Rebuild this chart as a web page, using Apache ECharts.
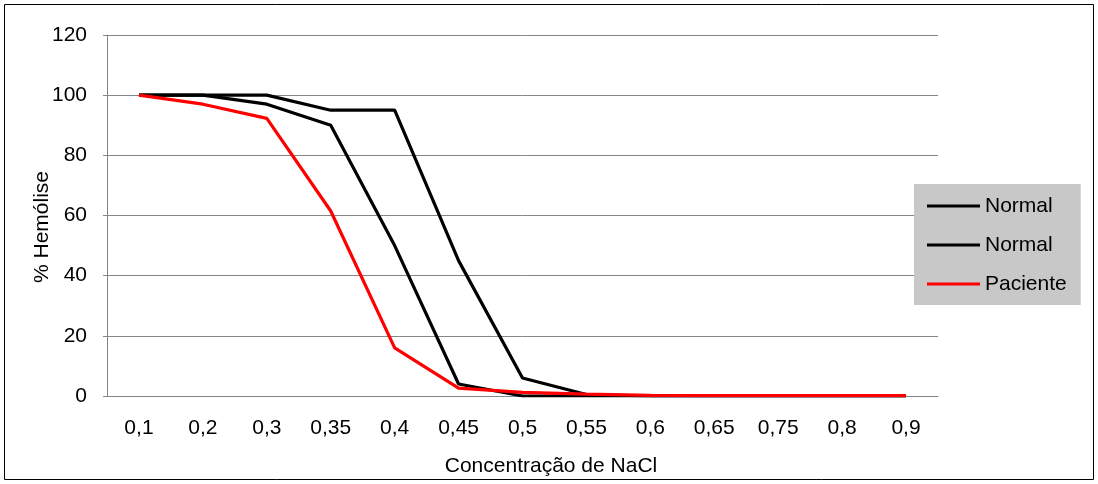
<!DOCTYPE html>
<html><head><meta charset="utf-8">
<script src="https://cdn.jsdelivr.net/npm/echarts@6/dist/echarts.min.js"></script>
<style>html,body{margin:0;padding:0;background:#fff}#c{width:1098px;height:484px}</style>
</head><body><div id="c"></div>
<script>
var categories = ['0,1','0,2','0,3','0,35','0,4','0,45','0,5','0,55','0,6','0,65','0,75','0,8','0,9'];
var normal1 = [100,100,100,95,95,45,6,0.5,0,0,0,0,0];
var normal2 = [100,100,97,90,50,4,0,0,0,0,0,0,0];
var paciente = [100,97,92.3,61.5,16,2.6,1.2,0.6,0.2,0.1,0.1,0.1,0.1];
var yTicks = [0,20,40,60,80,100,120];
var yTitle = '% Hemólise';
var xTitle = 'Concentração de NaCl';

var chart = echarts.init(document.getElementById('c'));
var font = 'Liberation Sans, Arial, sans-serif';
function line(name, data, color){
  return {name:name,type:'line',data:data,symbol:'none',lineStyle:{color:color,width:3.2},itemStyle:{color:color},z:color==='#ff0000'?3:2};
}
chart.setOption({
  animation:false,
  graphic:[
    {type:'rect',shape:{x:4.5,y:4.5,width:1089,height:475},style:{fill:'none',stroke:'#000',lineWidth:1},silent:true},
    {type:'text',x:42,y:227,rotation:Math.PI/2,style:{text:yTitle,font:'21px Liberation Sans, Arial, sans-serif',fill:'#000',textAlign:'center',textVerticalAlign:'middle'},silent:true}
  ],
  grid:{left:107,right:160,top:35,bottom:88},
  legend:{
    left:914, top:184, orient:'vertical',
    backgroundColor:'#c8c8c8',
    padding:[11,14,10,13],
    itemWidth:53, itemHeight:3, itemGap:17, icon:'rect',
    textStyle:{fontFamily:font,fontSize:21,color:'#000',lineHeight:22,padding:[0,0,0,0]},
    data:['Normal','Normal ','Paciente']
  },
  xAxis:{
    type:'category', data:categories, boundaryGap:true,
    axisLine:{lineStyle:{color:'#868686'}}, axisTick:{show:false},
    axisLabel:{fontFamily:font,fontSize:21,color:'#000',margin:22,interval:0},
    name:xTitle, nameLocation:'middle', nameGap:60,
    nameTextStyle:{fontFamily:font,fontSize:21,color:'#000',padding:[0,0,0,57]}
  },
  yAxis:{
    type:'value', min:0, max:120, interval:20,
    axisLine:{show:true,lineStyle:{color:'#868686'}},
    axisTick:{show:true,length:4,lineStyle:{color:'#868686'}},
    splitLine:{lineStyle:{color:'#868686',width:1}},
    axisLabel:{fontFamily:font,fontSize:21,color:'#000',margin:20}
  },
  series:[line('Normal',normal1,'#000000'),line('Normal ',normal2,'#000000'),line('Paciente',paciente,'#ff0000')]
});
</script></body></html>
